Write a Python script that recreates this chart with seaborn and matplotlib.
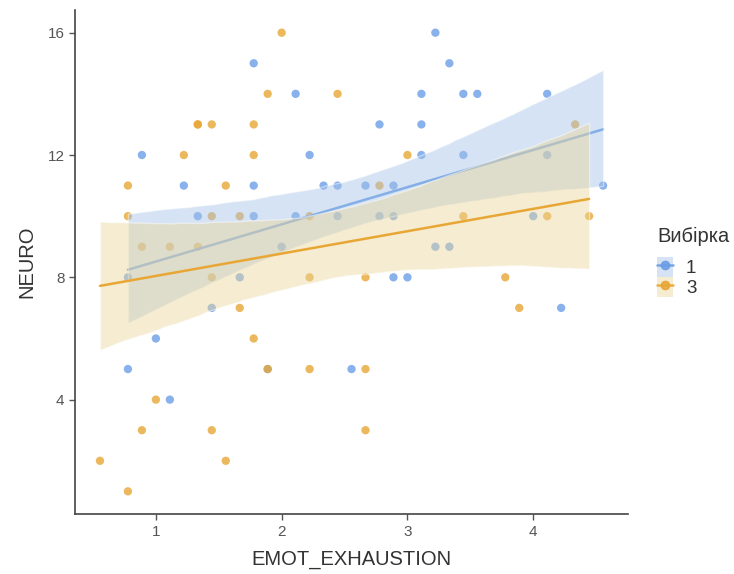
import numpy as np
import pandas as pd
import matplotlib
matplotlib.use("Agg")
import matplotlib.pyplot as plt
import seaborn as sns
from matplotlib.lines import Line2D
from matplotlib.patches import Patch
from matplotlib.collections import PolyCollection

# EMOT_EXHAUSTION is a mean of 9 items -> values in ninths
blue_x9 = [7, 7, 8, 9, 10, 11, 12, 13, 15, 16, 16, 16, 17, 18, 19, 19, 20, 21,
           22, 22, 23, 24, 25, 25, 26, 26, 26, 27, 28, 28, 28, 29, 29, 30, 30,
           31, 31, 32, 36, 37, 37, 38, 41]
blue_y = [5, 8, 12, 6, 4, 11, 10, 7, 8, 15, 11, 10, 5, 9, 14, 10, 12, 11,
          11, 10, 5, 11, 13, 10, 11, 10, 8, 8, 14, 13, 12, 16, 9, 15, 9,
          14, 12, 14, 10, 14, 12, 7, 11]

orange_x9 = [5, 7, 7, 7, 8, 8, 9, 10, 11, 12, 12, 12, 13, 13, 13, 13, 14, 14,
             15, 15, 16, 16, 16, 17, 17, 18, 20, 20, 20, 22, 24, 24, 24, 25,
             27, 31, 34, 35, 37, 39, 40]
orange_y = [2, 11, 10, 1, 9, 3, 4, 9, 12, 13, 13, 9, 13, 10, 8, 3, 11, 2,
            10, 7, 13, 12, 6, 14, 5, 16, 10, 8, 5, 14, 8, 5, 3, 11,
            12, 10, 8, 7, 10, 13, 10]

groups = ["1", "3"]
colors = {"1": "#6c9ee6", "3": "#e8a735"}
fills = {"1": "#a4c3e7", "3": "#e9d599"}
fill_alpha = 0.45

df = pd.DataFrame({
    "EMOT_EXHAUSTION": np.array(blue_x9 + orange_x9) / 9.0,
    "NEURO": blue_y + orange_y,
    "group": ["1"] * len(blue_y) + ["3"] * len(orange_y),
})

sns.set_style("white")
plt.rcParams["font.family"] = ["Liberation Sans", "DejaVu Sans"]

fig = plt.figure(figsize=(7.34, 5.74), dpi=100)
ax = fig.add_axes([0.102, 0.104, 0.754, 0.879])

# points first, the smooth layer goes over them
for g in groups:
    sub = df[df["group"] == g]
    ax.scatter(sub["EMOT_EXHAUSTION"], sub["NEURO"], s=36, color=colors[g],
               alpha=0.8, edgecolor="none", zorder=1)

for g in groups:
    sub = df[df["group"] == g]
    z = 1 if g == "1" else 2
    n_before = len(ax.collections)
    sns.regplot(data=sub, x="EMOT_EXHAUSTION", y="NEURO", ax=ax, scatter=False,
                color=colors[g], ci=95, n_boot=2000, seed=3,
                line_kws={"linewidth": 1.8, "zorder": z})
    for coll in ax.collections[n_before:]:
        if isinstance(coll, PolyCollection):
            coll.set_facecolor(fills[g])
            coll.set_alpha(fill_alpha)

ax.set_xlim(0.356, 4.756)
ax.set_ylim(0.25, 16.75)
ax.set_xticks([1, 2, 3, 4])
ax.set_yticks([4, 8, 12, 16])
ax.tick_params(axis="both", labelsize=11, colors="#555555", length=4,
               width=1, direction="out", bottom=True, left=True)
for lab in ax.get_xticklabels() + ax.get_yticklabels():
    lab.set_color("#555555")
for side in ["top", "right"]:
    ax.spines[side].set_visible(False)
for side in ["left", "bottom"]:
    ax.spines[side].set_color("#444444")
    ax.spines[side].set_linewidth(1.2)

ax.set_xlabel("EMOT_EXHAUSTION", fontsize=14.5, color="#333333", labelpad=8)
ax.set_ylabel("NEURO", fontsize=14.5, color="#333333", labelpad=8)

handles = []
for g in groups:
    box = Patch(facecolor=fills[g], alpha=fill_alpha, edgecolor="none")
    ln = Line2D([], [], color=colors[g], linewidth=1.8, marker="o",
                markersize=6, alpha=0.9)
    handles.append((box, ln))
leg = ax.legend(handles, groups, title="Вибірка", loc="center left",
                bbox_to_anchor=(1.028, 0.5), frameon=False, fontsize=13.5,
                title_fontsize=14.5, handlelength=0.85, handleheight=1.25,
                handletextpad=0.7, labelspacing=0.0, alignment="left",
                borderaxespad=0.3)
# gap between the title and the keys
leg._legend_box.sep = 8
leg.get_title().set_color("#333333")
for t in leg.get_texts():
    t.set_color("#333333")

fig.savefig("out.png", dpi=100)
